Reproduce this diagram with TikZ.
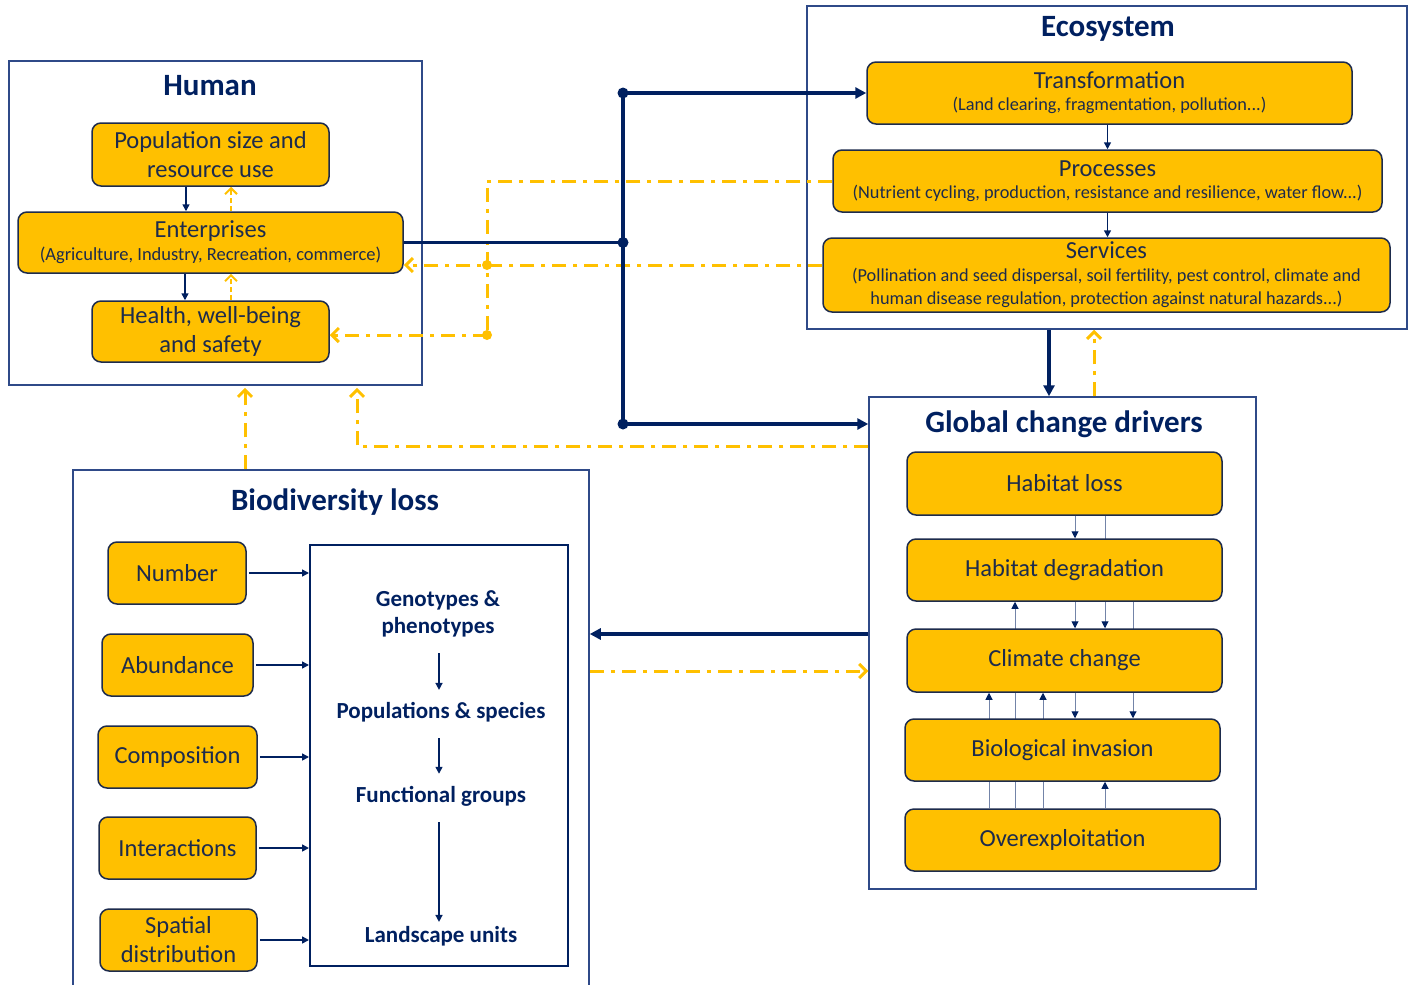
\documentclass[tikz,border=0pt]{standalone}
\usepackage{fontspec}
\setmainfont{Carlito}
\usetikzlibrary{arrows.meta,backgrounds}
\definecolor{gold}{HTML}{FFC000}
\definecolor{navy}{HTML}{002060}
\definecolor{framec}{HTML}{2F4A88}
\definecolor{inkc}{HTML}{1D2B4C}
\newcommand{\smalltxt}{\fontsize{18.3}{22}\selectfont}
\newcommand{\enttxt}{\fontsize{18.5}{22}\selectfont}
\tikzset{
frame/.style={draw=framec, line width=1.5pt, inner sep=0pt},
title/.style={font=\fontsize{31}{36}\selectfont\bfseries, text=navy, inner sep=0pt},
box/.style={draw=inkc, line width=1.5pt, fill=gold, rounded corners=9pt, text=inkc,
  align=center, inner sep=0pt, font=\fontsize{24.5}{29}\selectfont},
levels/.style={draw=navy, line width=2pt, inner sep=0pt},
leveltext/.style={font=\fontsize{23}{27}\selectfont\bfseries, text=navy, align=center, inner sep=0pt},
main/.style={draw=navy, line width=3.5pt},
mainarr/.style={main, -{Triangle[length=11pt,width=11pt]}},
link/.style={draw=navy, line width=1.5pt, -{Triangle[length=7pt,width=7pt]}},
levarr/.style={link, shorten <=16pt, shorten >=12pt},
gcdlink/.style={draw=navy!55, line width=1pt, -{Triangle[length=7pt,width=7pt,color=navy]}},
fb/.style={draw=gold, line width=3pt, dash pattern=on 14pt off 7pt on 4pt off 7pt},
fbarr/.style={fb, -{Straight Barb[length=7pt,width=14pt]}},
fbthin/.style={draw=gold, line width=2pt, dash pattern=on 5pt off 3pt, -{Straight Barb[length=6pt,width=12pt]}}
}
\begin{document}
\begin{tikzpicture}[x=1pt,y=-1pt]
\useasboundingbox (0,0) rectangle (1414,985);
\node[frame, minimum width=413, minimum height=324] (human) at (215.5,223) {};
\node[title] (humant) at (210,86) {Human};
\node[box, minimum width=237, minimum height=63] (pop) at (210.5,154.5) {Population size and\\resource use};
\node[box, minimum width=385, minimum height=61] (ent) at (210.5,242.5) {Enterprises\\[-6pt]\enttxt (Agriculture, Industry, Recreation, commerce)};
\node[box, minimum width=237, minimum height=61] (health) at (210.5,331.5) {Health, well-being\\and safety};

\node[frame, minimum width=600, minimum height=323] (eco) at (1107,167.5) {};
\node[title] (ecot) at (1108,29) {Ecosystem};
\node[box, minimum width=485, minimum height=62] (trans) at (1109.5,93) {Transformation\\[-7pt]\smalltxt (Land clearing, fragmentation, pollution...)};
\node[box, minimum width=549, minimum height=62] (proc) at (1107.5,181) {Processes\\[-7pt]\smalltxt (Nutrient cycling, production, resistance and resilience, water flow...)};
\node[box, minimum width=567, minimum height=74] (serv) at (1106.5,275) {Services\\[-6pt]\smalltxt (Pollination and seed dispersal, soil fertility, pest control, climate and\\[-6pt]\smalltxt human disease regulation, protection against natural hazards...)};

\node[frame, minimum width=387, minimum height=492] (gcd) at (1062.5,643) {};
\node[title] (gcdt) at (1064,424) {Global change drivers};
\node[box, minimum width=315, minimum height=63] (hl) at (1064.5,483.5) {Habitat loss};
\node[box, minimum width=315, minimum height=62] (hd) at (1064.5,570) {Habitat degradation};
\node[box, minimum width=315, minimum height=63] (cc) at (1064.5,660.5) {Climate change};
\node[box, minimum width=315, minimum height=62] (bi) at (1062.5,750) {Biological invasion};
\node[box, minimum width=315, minimum height=62] (oe) at (1062.5,840) {Overexploitation};

\node[frame, minimum width=516, minimum height=530] (bio) at (331,735) {};
\node[title] (biot) at (335,502) {Biodiversity loss};
\node[box, minimum width=138, minimum height=62] (num) at (177,573) {Number};
\node[box, minimum width=151, minimum height=62] (abun) at (177.5,665) {Abundance};
\node[box, minimum width=159, minimum height=62] (comp) at (177.5,757) {Composition};
\node[box, minimum width=157, minimum height=62] (inter) at (177.5,848) {Interactions};
\node[box, minimum width=157, minimum height=62] (spat) at (178.5,940) {Spatial\\distribution};
\node[levels, minimum width=258, minimum height=421] (lev) at (439,755.5) {};
\node[leveltext] (geno) at (438,614) {Genotypes \&\\phenotypes};
\node[leveltext] (popsp) at (441,712) {Populations \& species};
\node[leveltext] (func) at (441,796) {Functional groups};
\node[leveltext] (land) at (441,936) {Landscape units};

\draw[link] ([xshift=-24.5]pop.south) -- ([xshift=-24.5]pop.south |- ent.north);
\draw[link] ([xshift=-25.5]ent.south) -- ([xshift=-25.5]ent.south |- health.north);
\draw[fbthin] ([xshift=20.5]ent.north) -- ([xshift=20.5]ent.north |- pop.south);
\draw[fbthin] ([xshift=20.5]health.north) -- ([xshift=20.5]health.north |- ent.south);

\draw[link] (proc.north |- trans.south) -- (proc.north);
\draw[link] (proc.south) -- (proc.south |- serv.north);

\draw[gcdlink] ([xshift=10.5]hl.south) -- ([xshift=10.5]hl.south |- hd.north);
\draw[gcdlink] ([xshift=10.5]hd.south) -- ([xshift=10.5]hd.south |- cc.north);
\draw[gcdlink] ([xshift=10.5]cc.south) -- ([xshift=10.5]cc.south |- bi.north);
\begin{scope}[on background layer]
\draw[gcdlink] ([xshift=40.5]hl.south) -- ([xshift=40.5]hl.south |- cc.north);
\draw[gcdlink] ([xshift=68.5]hd.south) -- ([xshift=68.5]hd.south |- bi.north);
\draw[gcdlink] ([xshift=-49.5]hd.south |- oe.north) -- ([xshift=-49.5]hd.south);
\draw[gcdlink] ([xshift=-75.5]cc.south |- oe.north) -- ([xshift=-75.5]cc.south);
\draw[gcdlink] ([xshift=-21.5]cc.south |- oe.north) -- ([xshift=-21.5]cc.south);
\draw[gcdlink] ([xshift=40.5]cc.south |- oe.north) -- ([xshift=40.5]cc.south |- bi.south);
\end{scope}

\draw[link, shorten <=2pt] (num.east) -- (num.east -| lev.west);
\draw[link, shorten <=2pt] (abun.east) -- (abun.east -| lev.west);
\draw[link, shorten <=2pt] (comp.east) -- (comp.east -| lev.west);
\draw[link, shorten <=2pt] (inter.east) -- (inter.east -| lev.west);
\draw[link, shorten <=2pt] (spat.east) -- (spat.east -| lev.west);
\draw[levarr] (geno.south -| lev.center) -- (popsp.north -| lev.center);
\draw[levarr] (popsp.south -| lev.center) -- (func.north -| lev.center);
\draw[levarr, shorten >=4pt] (func.south -| lev.center) -- (land.north -| lev.center);

\coordinate (kp) at (487,181);
\coordinate (ks) at (487,265);
\coordinate (kw) at (487,335);
\draw[fb] (proc.west) -- (kp) -- (kw);
\draw[fbarr] (kw) -- (kw -| health.east);
\draw[fbarr] (ks -| serv.west) -- (ks -| ent.east);
\fill[gold] (ks) circle[radius=5pt] (kw) circle[radius=5pt];

\coordinate (jt) at (623,93);
\coordinate (jm) at (623,242.5);
\coordinate (jb) at (623,424);
\draw[main] (ent.east) -- (jm);
\draw[main] (jt) -- (jb);
\draw[mainarr] (jt) -- (trans.west);
\draw[mainarr] (jb) -- (jb -| gcd.west);
\fill[navy] (jt) circle[radius=5.5pt] (jm) circle[radius=5.5pt] (jb) circle[radius=5.5pt];

\draw[mainarr] ([xshift=-13.5]gcd.north |- eco.south) -- ([xshift=-13.5]gcd.north);
\draw[fbarr] ([xshift=31.5]gcd.north) -- ([xshift=31.5]gcd.north |- eco.south);
\draw[mainarr] ([yshift=9]gcd.west) -- ([yshift=9]gcd.west -| bio.east);
\draw[fbarr] ([yshift=-28]gcd.west -| bio.east) -- ([yshift=-28]gcd.west);

\coordinate (kh) at (357,446);
\draw[fbarr, shorten >=2pt] (kh -| gcd.west) -- (kh) -- (kh |- human.south);
\draw[fbarr, shorten >=2pt] ([xshift=-86]bio.north) -- ([xshift=-86]bio.north |- human.south);
\end{tikzpicture}
\end{document}
